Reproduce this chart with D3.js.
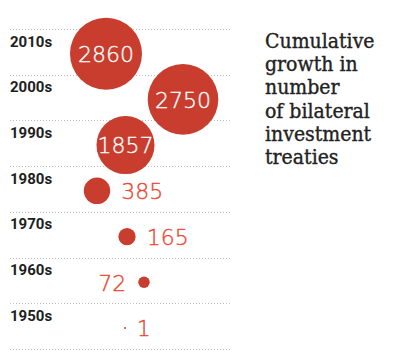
<!DOCTYPE html>
<html>
<head>
<meta charset="utf-8">
<script src="https://cdn.jsdelivr.net/npm/d3@7"></script>
<style>
  body { margin: 0; background: #fff; }
  svg { display: block; }
</style>
</head>
<body>
<div id="bubbles"></div>
<script>
// data, top row first
const decades = ["2010s", "2000s", "1990s", "1980s", "1970s", "1960s", "1950s"];
const treaties = [2860, 2750, 1857, 385, 165, 72, 1];
const titleLines = ["Cumulative", "growth in", "number", "of bilateral", "investment", "treaties"];

// layout only: sideways nudge of each bubble and where its number goes
const nudge = [-19, 58, 0.5, -28, 2, 19, 0];
const labelSide = ["in", "in", "in", "right", "right", "left", "right"];

const width = 400, height = 355;
const margin = {top: 29, right: 168, bottom: 6, left: 10};

const svg = d3.select("#bubbles")
    .append("svg")
    .attr("width", width)
    .attr("height", height);

const y = d3.scaleBand()
    .domain(decades)
    .range([margin.top, height - margin.bottom])
    .paddingInner(0);

const r = d3.scaleSqrt()
    .domain([0, 2860])
    .range([0, 36]);

const x = d3.scaleLinear()
    .domain([-100, 100])
    .range([25, 225]);

// dotted row rules
svg.append("g")
    .selectAll("line")
    .data(decades.concat(["end"]))
    .enter().append("line")
    .attr("x1", margin.left)
    .attr("x2", width - margin.right)
    .attr("y1", function(d, i) { return Math.round(margin.top + i * y.bandwidth()) + 0.5; })
    .attr("y2", function(d, i) { return Math.round(margin.top + i * y.bandwidth()) + 0.5; })
    .attr("stroke", "#bdbdbd")
    .attr("stroke-width", 1)
    .attr("stroke-dasharray", "1,2");

// decade labels
svg.append("g")
    .selectAll("text")
    .data(decades)
    .enter().append("text")
    .attr("x", margin.left)
    .attr("y", function(d) { return y(d) + 17.5; })
    .text(function(d) { return d; })
    .style("font-family", "Roboto, sans-serif")
    .style("font-weight", "700")
    .style("font-size", "15px")
    .style("fill", "#1e1e1e");

const rows = decades.map(function(d, i) {
    return {decade: d, value: treaties[i], dx: nudge[i], side: labelSide[i]};
});

const cy = function(d) { return y(d.decade) + y.bandwidth() * 0.54; };

svg.append("g")
    .selectAll("circle")
    .data(rows)
    .enter().append("circle")
    .attr("cx", function(d) { return x(d.dx); })
    .attr("cy", cy)
    .attr("r", function(d) { return Math.max(r(d.value), 1); })
    .attr("fill", "#c83d2e");

// numbers
svg.append("g")
    .selectAll("text")
    .data(rows)
    .enter().append("text")
    .attr("x", function(d) {
        if (d.side == "in") return x(d.dx);
        if (d.side == "left") return x(d.dx) - r(d.value) - 12;
        return x(d.dx) + r(d.value) + 11;
    })
    .attr("y", cy)
    .attr("dy", "0.38em")
    .attr("text-anchor", function(d) {
        if (d.side == "in") return "middle";
        return d.side == "left" ? "end" : "start";
    })
    .text(function(d) { return d.value; })
    .style("font-family", "'DejaVu Sans', sans-serif")
    .style("font-weight", "200")
    .style("font-size", "22px")
    .style("stroke", function(d) { return d.side == "in" ? "#fff" : "#ec4631"; })
    .style("stroke-width", 0.35)
    .style("fill", function(d) { return d.side == "in" ? "#fff" : "#ec4631"; });

// title
svg.append("text")
    .attr("x", 265)
    .attr("y", 48)
    .style("font-family", "'DejaVu Serif Condensed', 'DejaVu Serif', serif")
    .style("font-stretch", "condensed")
    .style("font-size", "21px")
    .style("fill", "#222")
    .style("stroke", "#222")
    .style("stroke-width", 0.35)
    .selectAll("tspan")
    .data(titleLines)
    .enter().append("tspan")
    .attr("x", 265)
    .attr("dy", function(d, i) { return i == 0 ? 0 : 23.2; })
    .text(function(d) { return d; });
</script>
</body>
</html>
